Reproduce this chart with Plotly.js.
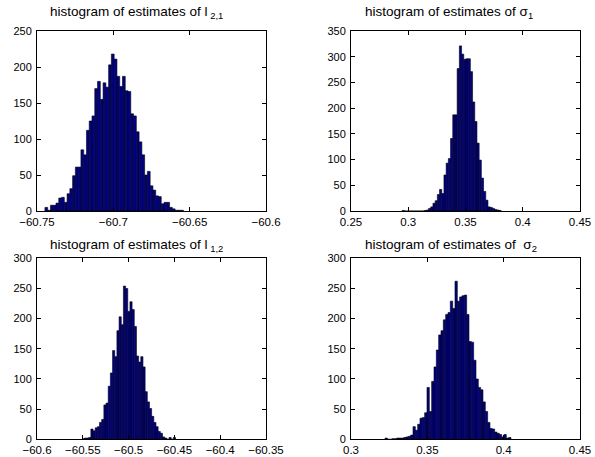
<!DOCTYPE html>
<html>
<head>
<meta charset="utf-8">
<script src="https://cdn.plot.ly/plotly-3.0.1.min.js"></script>
<style>html,body{margin:0;padding:0;background:#fff;}#chart{width:595px;height:457px;}</style>
</head>
<body>
<div id="chart"></div>
<script>
// ---- data (bin counts) ----
const titles = [
  "histogram of estimates of l<sub> 2,1</sub>",
  "histogram of estimates of \u03c3<sub>1</sub>",
  "histogram of estimates of l<sub> 1,2</sub>",
  "histogram of estimates of  \u03c3<sub>2</sub>"
];
// panel 1: estimates of l_{2,1}
const binStart1 = -60.7439, binWidth1 = 0.001814;
const counts1 = [5, 1, 8, 8, 11, 18, 19, 12, 24, 31, 49, 61, 61, 85, 78, 112, 125, 132, 170, 180,
  155, 178, 172, 203, 218, 211, 187, 173, 187, 167, 166, 135, 132, 110, 96, 78, 50, 55, 35, 29,
  21, 20, 10, 12, 12, 5, 3, 1, 1, 1];
// panel 2: estimates of sigma_1
const binStart2 = 0.29565, binWidth2 = 0.001921;
const counts2 = [1, 0, 0, 0, 0, 0, 0, 0, 0, 0, 1, 2, 5, 8, 15, 20, 32, 42, 34, 70, 93, 102, 141, 187,
  187, 277, 321, 305, 295, 296, 296, 271, 212, 174, 132, 99, 64, 38, 21, 8, 7, 5, 3, 2, 1];
// panel 3: estimates of l_{1,2}
const binStart3 = -60.5495, binWidth3 = 0.00237;
const counts3 = [1, 2, 2, 3, 17, 14, 19, 21, 28, 33, 57, 60, 88, 110, 147, 137, 180, 203, 190, 254,
  250, 212, 228, 215, 187, 138, 128, 137, 120, 79, 62, 51, 38, 28, 21, 13, 10, 4, 2, 0, 3, 0, 3];
// panel 4: estimates of sigma_2
const binStart4 = 0.32304, binWidth4 = 0.001528;
const counts4 = [2, 0, 0, 1, 1, 2, 2, 2, 3, 4, 5, 7, 21, 15, 25, 35, 36, 44, 86, 46, 96, 120, 148, 173,
  180, 198, 207, 210, 229, 217, 262, 229, 236, 238, 239, 207, 162, 161, 131, 100, 86, 82, 62, 46,
  28, 18, 17, 12, 10, 8, 4, 8, 2, 3];
// axis ranges
const xRanges = [[-60.75, -60.6], [0.25, 0.45], [-60.6, -60.35], [0.3, 0.45]];
const yRanges = [[0, 250], [0, 350], [0, 300], [0, 300]];

// ---- build ----
const starts = [binStart1, binStart2, binStart3, binStart4];
const widths = [binWidth1, binWidth2, binWidth3, binWidth4];
const counts = [counts1, counts2, counts3, counts4];

const W = 595, H = 457;
const colDom = [[37 / W, 266 / W], [351 / W, 580 / W]];
const rowDom = [[1 - 211 / H, 1 - 31 / H], [1 - 439.3 / H, 1 - 258.3 / H]];

const FONT = "Liberation Sans, Arial, sans-serif";
const traces = [];
const layout = {
  width: W, height: H,
  margin: {l: 0, r: 0, t: 0, b: 0},
  paper_bgcolor: "#ffffff", plot_bgcolor: "#ffffff",
  showlegend: false, bargap: 0,
  font: {family: FONT, size: 11, color: "#000"},
  annotations: []
};
const titlePos = [[48, 12], [363, 12], [48, 245], [363, 245]];

for (let i = 0; i < 4; i++) {
  const n = i + 1;
  const xa = n === 1 ? "x" : "x" + n, ya = n === 1 ? "y" : "y" + n;
  traces.push({
    type: "bar", xaxis: xa, yaxis: ya,
    x0: starts[i], dx: widths[i], y: counts[i], width: widths[i],
    marker: {color: "#00008c", line: {color: "#000000", width: 0.6}},
    hoverinfo: "skip"
  });
  const common = {
    showline: true, linecolor: "#000", linewidth: 1, mirror: "ticks",
    ticks: "inside", ticklen: 4, tickcolor: "#000", tickwidth: 1,
    showgrid: false, zeroline: false, tickfont: {family: FONT, size: 11.5, color: "#000"},
    dtick: 50, tick0: 0
  };
  layout["xaxis" + (n === 1 ? "" : n)] = Object.assign({}, common, {
    domain: colDom[i % 2], range: xRanges[i], dtick: 0.05, tick0: 0,
    anchor: ya, ticklabelstandoff: 0
  });
  layout["yaxis" + (n === 1 ? "" : n)] = Object.assign({}, common, {
    domain: rowDom[Math.floor(i / 2)], range: yRanges[i], anchor: xa, ticklabelstandoff: 2,
    tickfont: {family: FONT, size: 11, color: "#000"}
  });
  layout.annotations.push({
    text: titles[i], xref: "paper", yref: "paper",
    x: titlePos[i][0] / W, y: 1 - titlePos[i][1] / H,
    xanchor: "left", yanchor: "middle", showarrow: false,
    font: {family: FONT, size: 13.5, color: "#000"}
  });
}

Plotly.newPlot("chart", traces, layout, {staticPlot: true, displayModeBar: false});
</script>
</body>
</html>
